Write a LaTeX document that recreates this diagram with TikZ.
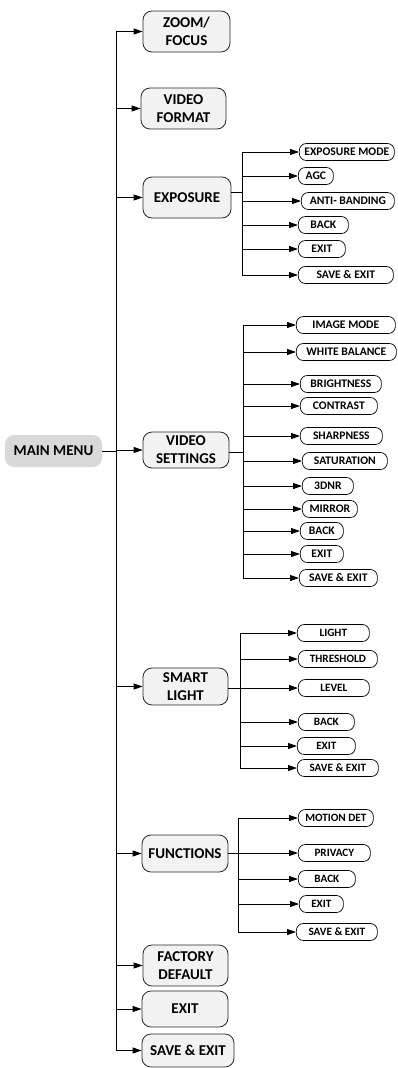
\documentclass[tikz,border=0pt]{standalone}
\usepackage{fontspec}
\setmainfont{Carlito}
\usetikzlibrary{arrows.meta}
\begin{document}
\begin{tikzpicture}[x=1pt,y=-1pt,
  mainbox/.style={draw=black!85, fill=black!5, rounded corners=9pt, line width=0.8pt,
    font=\bfseries\fontsize{15}{18}\selectfont, align=center, inner sep=0pt, text=black},
  menubox/.style={fill=black!15, rounded corners=9pt, inner sep=0pt,
    font=\bfseries\fontsize{15}{18}\selectfont, text=black},
  subbox/.style={draw=black, fill=white, rounded corners=7pt, line width=0.7pt,
    font=\bfseries\fontsize{11.6}{12}\selectfont, inner sep=0pt, minimum height=17pt, anchor=west, text=black},
  subsmall/.style={subbox, font=\bfseries\fontsize{11.2}{12}\selectfont},
  conn/.style={line width=0.8pt},
  arr/.style={conn, -{Triangle[length=9pt,width=6pt]}},
]
\useasboundingbox (0,0) rectangle (397,1068);

% main menu
\node[menubox, minimum width=97pt, minimum height=32pt] (mm) at (53.5,451) {MAIN MENU};

% level 1
\node[mainbox, minimum width=87pt, minimum height=41pt] (zoom) at (186.5,31.5) {ZOOM/\\FOCUS};
\node[mainbox, minimum width=85pt, minimum height=41pt] (vf) at (183.5,108.5) {VIDEO\\FORMAT};
\node[mainbox, minimum width=88pt, minimum height=41pt] (ex) at (187,197.5) {EXPOSURE};
\node[mainbox, minimum width=86pt, minimum height=36pt] (vs) at (186,450) {VIDEO\\SETTINGS};
\node[mainbox, minimum width=85pt, minimum height=37pt] (sl) at (185.5,686.5) {SMART\\LIGHT};
\node[mainbox, minimum width=86pt, minimum height=37pt] (fn) at (185,853.5) {FUNCTIONS};
\node[mainbox, minimum width=85pt, minimum height=41pt] (fd) at (185.5,965.5) {FACTORY\\DEFAULT};
\node[mainbox, minimum width=86pt, minimum height=36pt] (ext) at (185,1009) {EXIT};
\node[mainbox, minimum width=92pt, minimum height=33pt] (sx) at (188,1050.5) {SAVE \& EXIT};

% main trunk
\coordinate (tr) at (116,451);
\draw[conn] (mm.east) -- (tr);
\draw[conn] (zoom.west -| tr) -- (sx.west -| tr);
\foreach \n in {zoom,vf,ex,vs,sl,fn,fd,ext,sx}
  \draw[arr] (\n.west -| tr) -- (\n.west);

% exposure children
\node[subbox, minimum width=95pt] (e1) at (299,152) {EXPOSURE MODE};
\node[subbox, minimum width=35pt] (e2) at (298,176) {AGC};
\node[subbox, minimum width=93pt] (e3) at (301,201) {ANTI- BANDING};
\node[subbox, minimum width=50pt] (e4) at (298,225) {BACK};
\node[subbox, minimum width=47pt] (e5) at (298,249) {EXIT};
\node[subbox, minimum width=95pt] (e6) at (298,275) {SAVE \& EXIT};
\coordinate (etr) at (242,192);
\draw[conn] (ex.east |- etr) -- (etr);
\draw[conn] (e1.west -| etr) -- (e6.west -| etr);
\foreach \n in {e1,e2,e3,e4,e5,e6}
  \draw[arr] (\n.west -| etr) -- (\n.west);

% video settings children
\node[subbox, minimum width=99pt] (v1) at (296,325) {IMAGE MODE};
\node[subbox, minimum width=100pt] (v2) at (296,352) {WHITE BALANCE};
\node[subbox, minimum width=81pt] (v3) at (300,384) {BRIGHTNESS};
\node[subbox, minimum width=77pt] (v4) at (300,406) {CONTRAST};
\node[subbox, minimum width=82pt] (v5) at (300,436) {SHARPNESS};
\node[subbox, minimum width=85pt] (v6) at (302,461) {SATURATION};
\node[subbox, minimum width=51pt] (v7) at (302,486) {3DNR};
\node[subbox, minimum width=55pt] (v8) at (302,509) {MIRROR};
\node[subbox, minimum width=43pt] (v9) at (300,531) {BACK};
\node[subbox, minimum width=43pt] (v10) at (300,554) {EXIT};
\node[subbox, minimum width=78pt] (v11) at (299,578) {SAVE \&\ EXIT};
\coordinate (vtr) at (243,452);
\draw[conn] (vs.east |- vtr) -- (vtr);
\draw[conn] (v1.west -| vtr) -- (v11.west -| vtr);
\foreach \n in {v1,v2,v3,v4,v5,v6,v7,v8,v9,v10,v11}
  \draw[arr] (\n.west -| vtr) -- (\n.west);

% smart light children
\node[subsmall, minimum width=72pt] (s1) at (297,633) {LIGHT};
\node[subsmall, minimum width=79pt] (s2) at (298,659) {THRESHOLD};
\node[subsmall, minimum width=71pt] (s3) at (298,688) {LEVEL};
\node[subsmall, minimum width=56pt] (s4) at (298,722) {BACK};
\node[subsmall, minimum width=58pt] (s5) at (297,746) {EXIT};
\node[subsmall, minimum width=81pt] (s6) at (297,768) {SAVE \& EXIT};
\coordinate (str) at (240,688);
\draw[conn] (sl.east |- str) -- (str);
\draw[conn] (s1.west -| str) -- (s6.west -| str);
\foreach \n in {s1,s2,s3,s4,s5,s6}
  \draw[arr] (\n.west -| str) -- (\n.west);

% functions children
\node[subsmall, minimum width=75pt] (f1) at (298,818) {MOTION DET};
\node[subsmall, minimum width=72pt] (f2) at (298,853) {PRIVACY};
\node[subsmall, minimum width=57pt] (f3) at (298,879) {BACK};
\node[subsmall, minimum width=44pt] (f4) at (299,904) {EXIT};
\node[subsmall, minimum width=81pt] (f5) at (296,932) {SAVE \& EXIT};
\coordinate (ftr) at (238,853);
\draw[conn] (fn.east |- ftr) -- (ftr);
\draw[conn] (f1.west -| ftr) -- (f5.west -| ftr);
\foreach \n in {f1,f2,f3,f4,f5}
  \draw[arr] (\n.west -| ftr) -- (\n.west);
\end{tikzpicture}
\end{document}
